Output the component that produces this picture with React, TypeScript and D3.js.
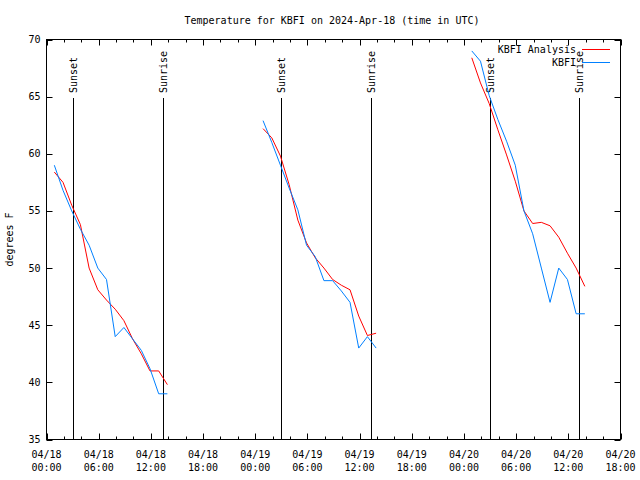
import React from 'react';
import * as d3 from 'd3';

const titleText = 'Temperature for KBFI on 2024-Apr-18 (time in UTC)';
const yLabelText = 'degrees F';

// hours since 2024-04-18 00:00 UTC (null = gap between days)
const obsHours: (number | null)[] = [
  0.9, 1.9, 2.9, 3.9, 4.9, 5.9, 6.9, 7.9, 8.9, 9.9, 10.9, 11.9, 12.9, 13.9,
  null,
  24.9, 25.9, 26.9, 27.9, 28.9, 29.9, 30.9, 31.9, 32.9, 33.9, 34.9, 35.9, 36.9, 37.9,
  null,
  48.9, 49.9, 50.9, 51.9, 52.9, 53.9, 54.9, 55.9, 56.9, 57.9, 58.9, 59.9, 60.9, 61.9,
];

const kbfiTemps: (number | null)[] = [
  59.0, 56.8, 55.0, 53.4, 52.0, 50.0, 49.0, 44.0, 44.8, 43.8, 42.8, 41.2, 39.0, 39.0,
  null,
  62.9, 61.0, 59.0, 57.0, 55.1, 52.0, 51.0, 48.9, 48.9, 48.0, 47.0, 43.0, 44.0, 43.0,
  null,
  69.0, 68.1, 65.1, 63.0, 61.1, 59.0, 55.0, 53.0, 50.0, 47.0, 50.0, 49.0, 46.0, 46.0,
];

const analysisTemps: (number | null)[] = [
  58.4, 57.5, 55.5, 53.8, 50.0, 48.1, 47.2, 46.4, 45.4, 43.8, 42.5, 41.0, 41.0, 39.8,
  null,
  62.2, 61.4, 59.8, 57.3, 54.2, 52.2, 50.9, 50.0, 49.0, 48.5, 48.1, 45.8, 44.1, 44.3,
  null,
  68.4, 66.2, 64.4, 62.1, 59.9, 57.6, 55.0, 53.9, 54.0, 53.7, 52.7, 51.3, 50.0, 48.4,
];

const sunLabels = ['Sunset', 'Sunrise', 'Sunset', 'Sunrise', 'Sunset', 'Sunrise'];
const sunHours = [3.02, 13.35, 27.0, 37.34, 51.04, 61.22];

const xTickHours = [0, 6, 12, 18, 24, 30, 36, 42, 48, 54, 60, 66];
const xTickDates = ['04/18', '04/18', '04/18', '04/18', '04/19', '04/19', '04/19', '04/19', '04/20', '04/20', '04/20', '04/20'];
const xTickTimes = ['00:00', '06:00', '12:00', '18:00', '00:00', '06:00', '12:00', '18:00', '00:00', '06:00', '12:00', '18:00'];
const yTicks = [35, 40, 45, 50, 55, 60, 65, 70];

const legendNames = ['KBFI Analysis', 'KBFI'];
const RED = '#ff0000';
const BLUE = '#0080ff';

const W = 640, H = 480;
const L = 46.5, R = 620.5, T = 39.5, B = 439.5;
const FONT = 'DejaVu Sans Mono, monospace';
const FS = 10;

export default function App() {
  const x = d3.scaleLinear().domain([0, 66]).range([L, R]);
  const y = d3.scaleLinear().domain([35, 70]).range([B, T]);

  const mk = (vals: (number | null)[]) => {
    const pts = obsHours.map((h, i) => ({ h, v: vals[i] }));
    return d3.line<{ h: number | null; v: number | null }>()
      .defined(d => d.h != null && d.v != null)
      .x(d => x(d.h as number))
      .y(d => y(d.v as number))(pts) || '';
  };

  const minor = d3.range(0, 67, 2).filter(h => h % 6 !== 0);

  return (
    <svg width={W} height={H} style={{ position: 'fixed', left: 0, top: 0, background: '#fff' }}
      fontFamily={FONT} fontSize={FS}>
      <rect x={0} y={0} width={W} height={H} fill="#fff" />
      <text x={332} y={24} textAnchor="middle">{titleText}</text>

      {/* sun lines */}
      {sunHours.map((h, i) => (
        <g key={'s' + i}>
          <line x1={Math.round(x(h)) + 0.5} x2={Math.round(x(h)) + 0.5} y1={98} y2={B} stroke="#000" />
          <text transform={`translate(${Math.round(x(h)) + 4},93) rotate(-90)`} textAnchor="start">{sunLabels[i]}</text>
        </g>
      ))}

      {/* ticks */}
      {xTickHours.map(h => (
        <g key={'xt' + h}>
          <line x1={Math.round(x(h)) + 0.5} x2={Math.round(x(h)) + 0.5} y1={B} y2={B - 6} stroke="#000" />
          <line x1={Math.round(x(h)) + 0.5} x2={Math.round(x(h)) + 0.5} y1={T} y2={T + 6} stroke="#000" />
        </g>
      ))}
      {minor.map(h => (
        <g key={'xm' + h}>
          <line x1={Math.round(x(h)) + 0.5} x2={Math.round(x(h)) + 0.5} y1={B} y2={B - 3} stroke="#000" />
          <line x1={Math.round(x(h)) + 0.5} x2={Math.round(x(h)) + 0.5} y1={T} y2={T + 3} stroke="#000" />
        </g>
      ))}
      {yTicks.map(v => (
        <g key={'yt' + v}>
          <line x1={L} x2={L + 6} y1={Math.round(y(v)) + 0.5} y2={Math.round(y(v)) + 0.5} stroke="#000" />
          <line x1={R} x2={R - 6} y1={Math.round(y(v)) + 0.5} y2={Math.round(y(v)) + 0.5} stroke="#000" />
          <text x={L - 6} y={y(v)} dy="0.35em" textAnchor="end">{v}</text>
        </g>
      ))}
      {xTickHours.map((h, i) => (
        <g key={'xl' + h}>
          <text x={x(h)} y={458} textAnchor="middle">{xTickDates[i]}</text>
          <text x={x(h)} y={471} textAnchor="middle">{xTickTimes[i]}</text>
        </g>
      ))}

      <text transform={`translate(13,${(T + B) / 2}) rotate(-90)`} textAnchor="middle">{yLabelText}</text>

      {/* data */}
      <path d={mk(analysisTemps)} fill="none" stroke={RED} strokeWidth={1} />
      <path d={mk(kbfiTemps)} fill="none" stroke={BLUE} strokeWidth={1} />

      {/* legend */}
      <text x={576} y={49} dy="0.35em" textAnchor="end">{legendNames[0]}</text>
      <line x1={582} x2={610} y1={49.5} y2={49.5} stroke={RED} />
      <text x={576} y={62} dy="0.35em" textAnchor="end">{legendNames[1]}</text>
      <line x1={582} x2={610} y1={62.5} y2={62.5} stroke={BLUE} />

      <rect x={L} y={T} width={R - L} height={B - T} fill="none" stroke="#000" />
    </svg>
  );
}
